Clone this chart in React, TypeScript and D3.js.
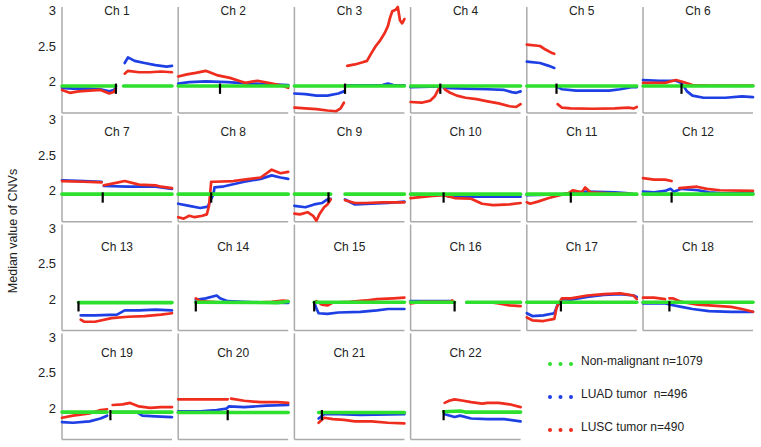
import React from "react";
import * as d3 from "d3";

type Pt = [number, number | null];

const chromosomes = Array.from({ length: 22 }, (_, i) => `Ch ${i + 1}`);
// centromere position (% along chromosome)
const centromeres = [49, 38, 46, 27, 27, 35, 37, 30, 31, 30, 40, 26, 15, 16, 18, 40, 31, 24, 44, 45, 25, 30];
const yTicks = [2, 2.5, 3];
const seriesNames = ["Non-malignant n=1079", "LUAD tumor  n=496", "LUSC tumor n=490"];
const seriesColors = ["#2ee02e", "#1e3fe4", "#ef2d1e"];

const nonMalignant: Pt[][] = [
  [[0, 1.955], [49, 1.955], [52, null], [56, 1.955], [100, 1.955]],
  [[0, 1.955], [100, 1.955]],
  [[0, 1.955], [100, 1.955]],
  [[0, 1.955], [100, 1.955]],
  [[0, 1.955], [100, 1.955]],
  [[0, 1.955], [100, 1.955]],
  [[0, 1.965], [100, 1.965]],
  [[0, 1.965], [100, 1.965]],
  [[0, 1.965], [33, 1.965], [40, null], [46, 1.965], [100, 1.965]],
  [[0, 1.965], [100, 1.965]],
  [[0, 1.965], [100, 1.965]],
  [[0, 1.965], [100, 1.965]],
  [[15, 1.97], [100, 1.97]],
  [[16, 1.975], [90, 1.97], [100, 1.985]],
  [[18, 1.975], [100, 1.975]],
  [[0, 1.975], [40, 1.975], [45, null], [51, 1.975], [100, 1.975]],
  [[0, 1.975], [100, 1.975]],
  [[0, 1.975], [100, 1.975]],
  [[0, 1.96], [41, 1.96], [43, null], [46, 1.96], [100, 1.96]],
  [[0, 1.955], [100, 1.955]],
  [[22, 1.955], [100, 1.955]],
  [[30, 1.965], [45, 1.975], [50, 1.96], [100, 1.96]],
];

const luad: Pt[][] = [
  [[0, 1.93], [10, 1.92], [25, 1.92], [35, 1.91], [43, 1.88], [47, 1.9], [49, 1.93], [52, null], [57, 2.28], [60, 2.36], [66, 2.31], [75, 2.28], [85, 2.25], [95, 2.23], [100, 2.24]],
  [[0, 1.99], [10, 2.01], [25, 2.02], [45, 2.01], [65, 1.99], [85, 1.98], [100, 1.97]],
  [[0, 1.85], [10, 1.84], [20, 1.82], [30, 1.82], [40, 1.85], [45, 1.88], [46, null], [47, 1.965], [80, 1.97], [85, 1.99], [90, 1.97], [100, 1.965]],
  [[0, 1.94], [27, 1.95], [28, null], [30, 1.93], [50, 1.92], [70, 1.91], [85, 1.9], [92, 1.87], [96, 1.86], [100, 1.88]],
  [[0, 2.3], [12, 2.28], [20, 2.24], [25, 2.21], [26, null], [28, 1.94], [32, 1.91], [45, 1.89], [75, 1.89], [85, 1.91], [95, 1.94], [100, 1.94]],
  [[0, 2.04], [15, 2.03], [30, 2.03], [35, 2.0], [40, 1.88], [45, 1.82], [55, 1.79], [75, 1.79], [90, 1.81], [100, 1.8]],
  [[0, 2.16], [20, 2.15], [36, 2.14], [37, null], [38, 2.08], [60, 2.07], [85, 2.07], [100, 2.04]],
  [[0, 1.83], [10, 1.8], [20, 1.77], [27, 1.79], [30, 1.9], [32, 1.96], [33, 2.06], [40, 2.07], [60, 2.14], [75, 2.18], [85, 2.23], [93, 2.2], [100, 2.18]],
  [[0, 1.8], [10, 1.78], [18, 1.82], [25, 1.84], [30, 1.89], [33, 1.9], [40, null], [46, 1.89], [55, 1.82], [70, 1.83], [85, 1.84], [100, 1.86]],
  [[0, 1.965], [30, 1.96], [35, 1.93], [100, 1.93]],
  [[0, 1.95], [30, 1.96], [45, 1.99], [55, 2.0], [80, 1.99], [90, 1.98], [100, 1.96]],
  [[0, 2.0], [10, 1.99], [20, 2.01], [25, 2.04], [28, 2.0], [35, 2.04], [50, 2.02], [60, 1.99], [70, 1.98], [100, 1.975]],
  [[17, 1.79], [30, 1.79], [50, 1.8], [57, 1.86], [70, 1.86], [85, 1.87], [100, 1.86]],
  [[16, 2.01], [25, 2.03], [35, 2.07], [38, 2.03], [45, 1.99], [60, 1.98], [80, 1.97], [100, 1.965]],
  [[18, 1.97], [20, 1.89], [22, 1.82], [30, 1.81], [40, 1.83], [60, 1.84], [75, 1.86], [85, 1.88], [100, 1.88]],
  [[0, 1.99], [38, 1.99], [41, null], [51, 1.97], [100, 1.97]],
  [[0, 1.82], [5, 1.78], [15, 1.79], [25, 1.82], [28, 1.94], [30, 1.97], [32, 2.02], [40, 2.01], [55, 2.05], [70, 2.08], [85, 2.09], [97, 2.07], [100, 2.05]],
  [[0, 1.96], [20, 1.96], [25, 1.94], [35, 1.91], [45, 1.88], [60, 1.85], [80, 1.84], [100, 1.84]],
  [[0, 1.82], [10, 1.81], [25, 1.83], [35, 1.87], [41, 1.91], [43, null], [46, 1.96], [68, 1.96], [73, 1.91], [85, 1.9], [100, 1.89]],
  [[0, 1.97], [20, 1.97], [35, 1.99], [44, 2.01], [46, 2.04], [60, 2.03], [80, 2.05], [100, 2.06]],
  [[22, 1.87], [27, 1.93], [40, 1.93], [60, 1.92], [100, 1.93]],
  [[31, 1.93], [40, 1.89], [45, 1.91], [55, 1.87], [70, 1.86], [85, 1.86], [100, 1.83]],
];

const lusc: Pt[][] = [
  [[0, 1.9], [7, 1.86], [15, 1.88], [25, 1.89], [35, 1.9], [43, 1.85], [47, 1.87], [49, 1.92], [52, null], [57, 2.13], [60, 2.17], [70, 2.15], [80, 2.15], [90, 2.16], [100, 2.15]],
  [[0, 2.09], [8, 2.12], [16, 2.14], [25, 2.17], [35, 2.11], [47, 2.07], [55, 2.03], [61, 2.0], [72, 2.03], [82, 2.0], [92, 1.97], [100, 1.93]],
  [[0, 1.65], [10, 1.64], [20, 1.63], [30, 1.61], [38, 1.6], [42, 1.64], [45, 1.72], [46, null], [48, 2.24], [55, 2.26], [62, 2.29], [66, 2.31], [70, 2.42], [74, 2.52], [78, 2.6], [82, 2.7], [85, 2.8], [87, 2.92], [89, 3.01], [92, 3.03], [94, 3.07], [96, 2.88], [98, 2.84], [100, 2.9]],
  [[0, 1.73], [10, 1.72], [18, 1.75], [22, 1.81], [25, 1.9], [27, 1.95], [28, null], [31, 1.91], [36, 1.86], [42, 1.82], [50, 1.79], [60, 1.77], [70, 1.74], [80, 1.71], [90, 1.67], [96, 1.66], [100, 1.7]],
  [[0, 2.54], [12, 2.52], [17, 2.47], [23, 2.42], [25, 2.41], [26, null], [28, 1.7], [32, 1.65], [40, 1.64], [60, 1.635], [80, 1.64], [92, 1.65], [97, 1.64], [100, 1.66]],
  [[0, 2.0], [20, 2.0], [30, 2.04], [35, 2.02], [45, 1.97], [60, 1.96], [100, 1.96]],
  [[0, 2.15], [20, 2.14], [36, 2.13], [37, null], [38, 2.09], [48, 2.12], [57, 2.15], [70, 2.1], [85, 2.09], [90, 2.07], [100, 2.05]],
  [[0, 1.64], [5, 1.62], [10, 1.66], [15, 1.64], [22, 1.66], [26, 1.68], [28, 1.8], [30, 2.14], [33, 2.14], [50, 2.15], [60, 2.17], [75, 2.2], [85, 2.31], [93, 2.26], [100, 2.28]],
  [[0, 1.69], [5, 1.68], [12, 1.71], [17, 1.66], [20, 1.59], [23, 1.69], [27, 1.78], [30, 1.82], [33, 1.89], [40, null], [46, 1.88], [55, 1.84], [65, 1.84], [80, 1.85], [100, 1.85]],
  [[0, 1.91], [20, 1.94], [30, 1.95], [40, 1.91], [55, 1.9], [65, 1.83], [75, 1.81], [90, 1.82], [100, 1.84]],
  [[0, 1.85], [3, 1.83], [10, 1.86], [20, 1.91], [30, 1.95], [38, 1.98], [42, 2.02], [50, 1.99], [53, 2.06], [58, 1.99], [70, 1.98], [90, 1.97], [100, 1.96]],
  [[0, 2.19], [10, 2.17], [20, 2.17], [26, 2.15], [29, null], [33, 2.05], [49, 2.07], [58, 2.04], [70, 2.02], [100, 2.01]],
  [[17, 1.73], [20, 1.7], [30, 1.7], [45, 1.75], [60, 1.77], [75, 1.78], [90, 1.8], [100, 1.82]],
  [[16, 2.03], [20, 1.99], [40, 1.97], [70, 1.97], [85, 1.98], [95, 2.0], [100, 1.99]],
  [[18, 1.97], [20, 1.99], [25, 1.94], [30, 1.93], [35, 1.97], [50, 1.98], [65, 2.0], [75, 2.02], [90, 2.03], [100, 2.04]],
  [[0, 1.96], [5, 1.97], [10, 1.98], [35, 1.98], [38, 2.0], [41, null], [51, 1.975], [75, 1.97], [80, 1.96], [90, 1.93], [100, 1.92]],
  [[0, 1.76], [5, 1.72], [15, 1.71], [25, 1.74], [27, 1.89], [29, 1.96], [32, 2.03], [40, 2.03], [55, 2.07], [70, 2.09], [85, 2.1], [97, 2.07], [100, 2.02]],
  [[0, 2.04], [10, 2.04], [20, 2.02], [22, null], [24, 2.03], [27, 2.03], [35, 1.98], [50, 1.94], [70, 1.92], [80, 1.91], [90, 1.88], [100, 1.84]],
  [[0, 1.88], [10, 1.91], [25, 1.94], [35, 1.99], [41, 2.0], [43, null], [46, 2.06], [55, 2.07], [62, 2.09], [70, 2.04], [80, 2.02], [90, 2.03], [100, 2.03]],
  [[0, 2.14], [20, 2.14], [45, 2.14], [46, null], [48, 2.15], [60, 2.12], [75, 2.1], [90, 2.1], [100, 2.09]],
  [[22, 1.81], [27, 1.88], [35, 1.86], [45, 1.85], [55, 1.83], [70, 1.83], [85, 1.81], [100, 1.8]],
  [[31, 2.09], [35, 2.12], [40, 2.14], [48, 2.12], [55, 2.1], [65, 2.08], [70, 2.09], [80, 2.09], [90, 2.07], [100, 2.03]],
];

// layout
const W = 761;
const H = 447;
const COLS = 6;
const panelLeft0 = 62;
const colPitch = 116.2;
const panelW = 110;
const panelTop0 = 7;
const rowPitch = 108.8;
const panelH = 106;
const titleOffsets = [5, 17, 23, 20];
const FONT = "Liberation Sans, Arial, Helvetica, sans-serif";

export default function App() {
  const x = d3.scaleLinear().domain([0, 100]).range([0, panelW]);
  const y = d3.scaleLinear().domain([1.575, 3.07]).range([panelH, 0]);
  const line = d3
    .line<Pt>()
    .defined((d) => d[1] != null)
    .x((d) => x(d[0]))
    .y((d) => y(d[1] as number));

  const drawOrder: { data: Pt[][]; color: string; w: number }[] = [
    { data: luad, color: seriesColors[1], w: 2.7 },
    { data: lusc, color: seriesColors[2], w: 2.7 },
    { data: nonMalignant, color: seriesColors[0], w: 3.6 },
  ];

  return (
    <svg
      width={W}
      height={H}
      style={{ position: "absolute", left: 0, top: 0, background: "#fff" }}
      fontFamily={FONT}
    >
      <text
        transform={`translate(14,231) rotate(-90)`}
        textAnchor="middle"
        dominantBaseline="middle"
        fontSize={12.5}
        fill="#222"
      >
        Median value of CNVs
      </text>
      {chromosomes.map((name, i) => {
        const r = Math.floor(i / COLS);
        const c = i % COLS;
        const tx = panelLeft0 + c * colPitch;
        const ty = panelTop0 + r * rowPitch;
        return (
          <g key={name} transform={`translate(${tx},${ty})`}>
            <line x1={0} x2={0} y1={0} y2={panelH} stroke="#aaa" strokeWidth={1.5} />
            <line x1={0} x2={panelW} y1={panelH} y2={panelH} stroke="#aaa" strokeWidth={1.5} />
            {c === 0 &&
              yTicks.map((t) => (
                <text
                  key={t}
                  x={-6}
                  y={y(t)}
                  textAnchor="end"
                  dominantBaseline="middle"
                  fontSize={13}
                  fill="#222"
                >
                  {t}
                </text>
              ))}
            <text
              x={panelW / 2}
              y={titleOffsets[r]}
              textAnchor="middle"
              dominantBaseline="middle"
              fontSize={12}
              fill="#222"
            >
              {name}
            </text>
            {drawOrder.map((s, k) => (
              <path
                key={k}
                d={line(s.data[i]) || ""}
                fill="none"
                stroke={s.color}
                strokeWidth={s.w}
                strokeLinejoin="round"
                strokeLinecap="round"
              />
            ))}
            <line
              x1={x(centromeres[i])}
              x2={x(centromeres[i])}
              y1={y(1.99)}
              y2={y(1.845)}
              stroke="#000"
              strokeWidth={2.2}
            />
          </g>
        );
      })}
      <g>
        {seriesNames.map((n, k) => {
          const cy = [362, 395, 428][k];
          return (
            <g key={n}>
              {[0, 1, 2].map((j) => (
                <circle key={j} cx={550 + j * 10.5} cy={cy + 2} r={2} fill={seriesColors[k]} />
              ))}
              <text
                x={581}
                y={cy}
                dominantBaseline="middle"
                fontSize={12}
                fill="#222"
                style={{ whiteSpace: "pre" }}
              >
                {n}
              </text>
            </g>
          );
        })}
      </g>
    </svg>
  );
}
